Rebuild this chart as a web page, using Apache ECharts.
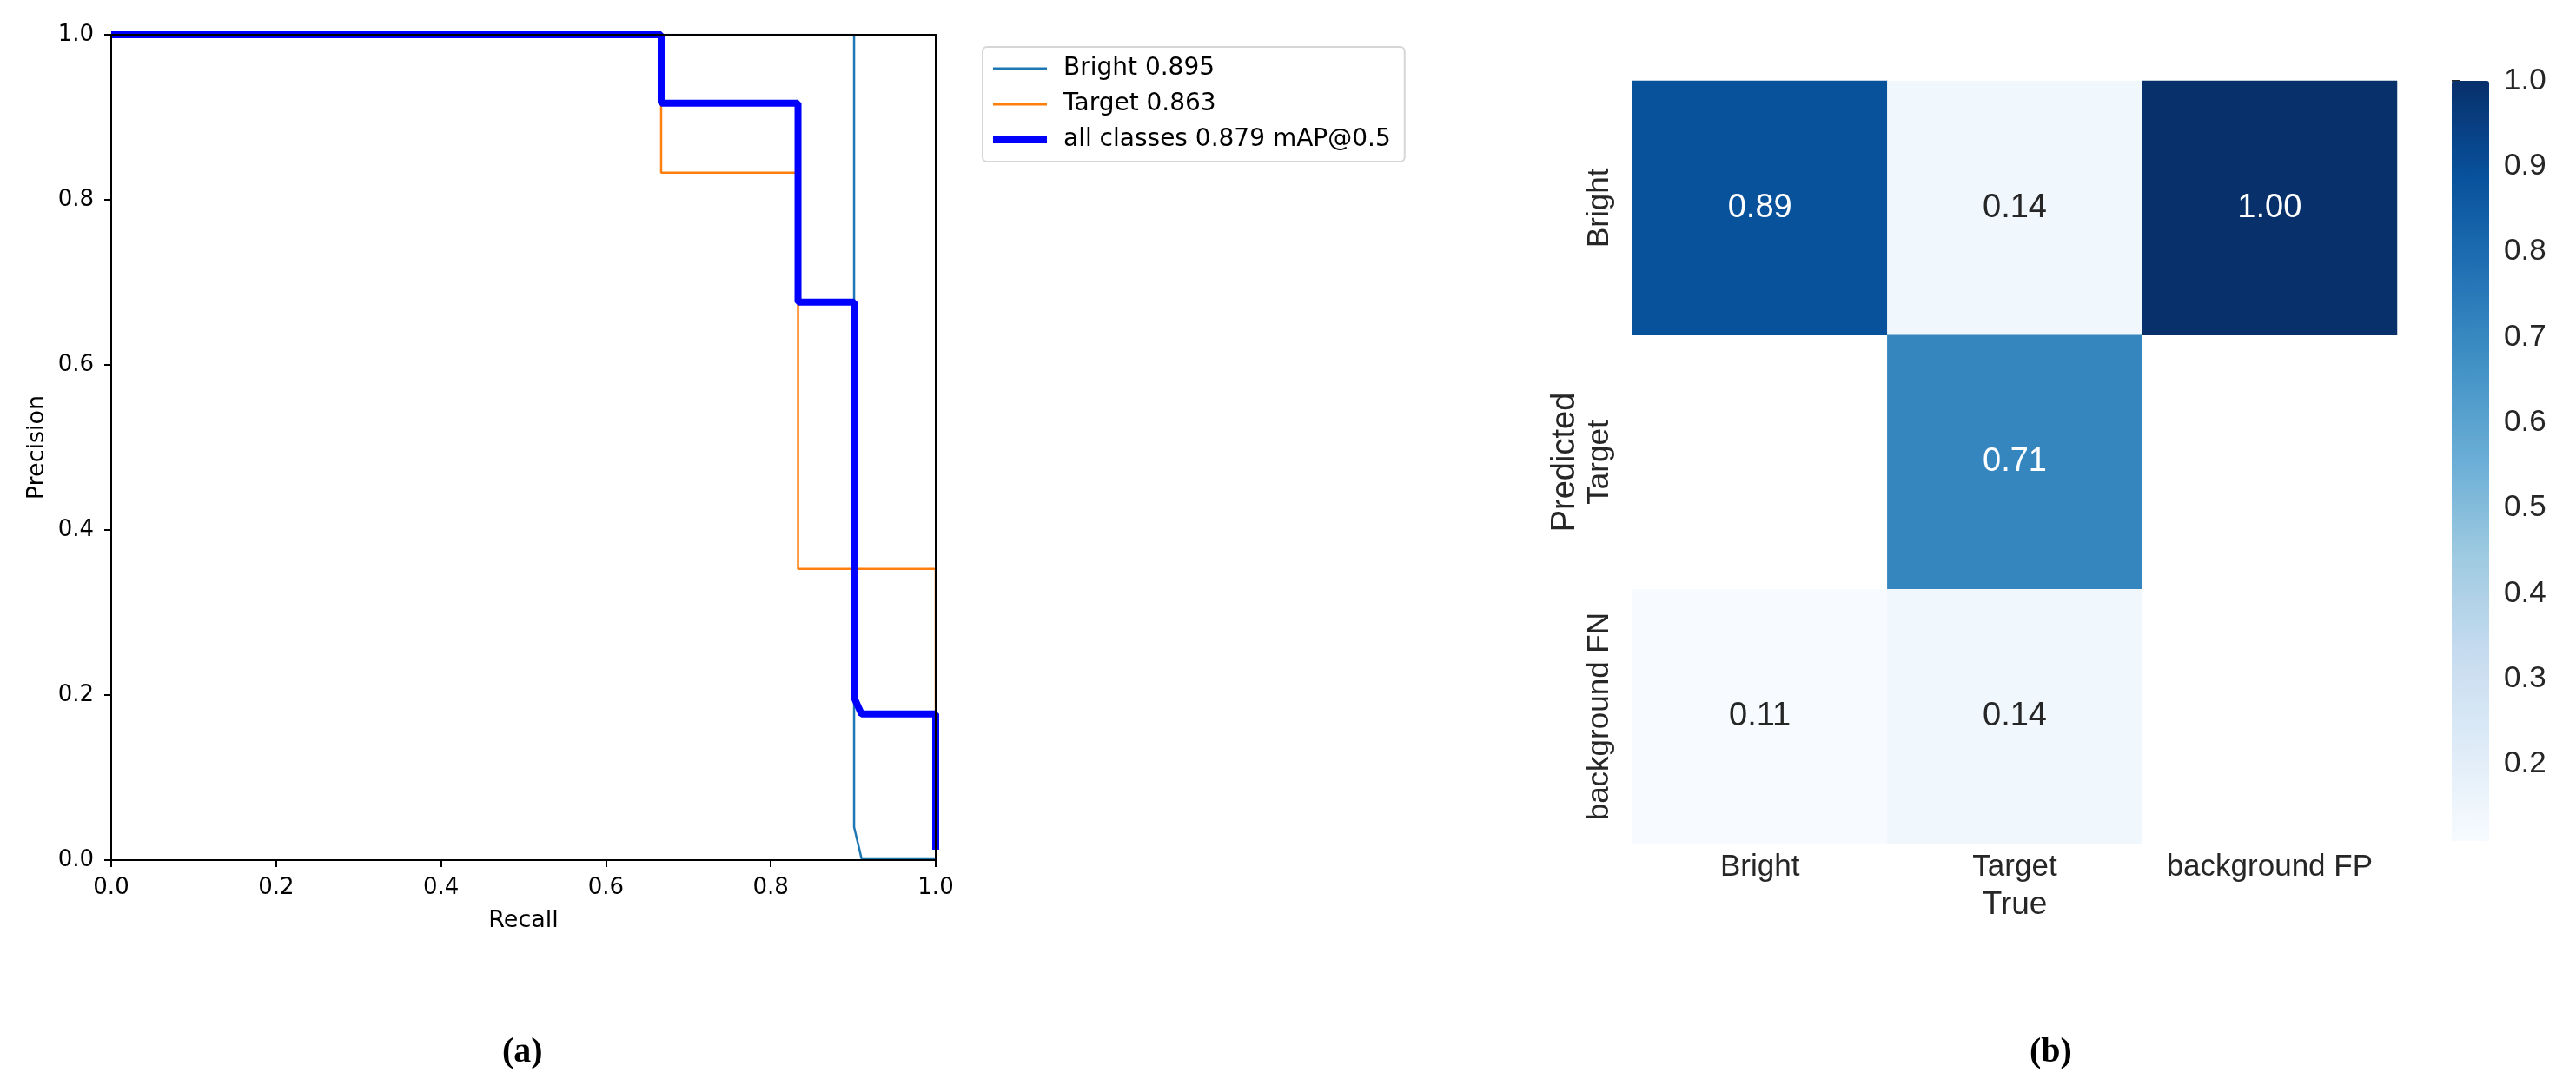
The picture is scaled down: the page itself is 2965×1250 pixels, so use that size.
<!DOCTYPE html>
<html><head><meta charset="utf-8">
<script src="https://cdn.jsdelivr.net/npm/echarts@6/dist/echarts.min.js"></script>
<style>html,body{margin:0;padding:0;background:#fff}#c{width:2965px;height:1250px}</style>
</head><body><div id="c"></div>
<script>
// ---- PR curve data (recall, precision) ----
const prTicks = [0, 0.2, 0.4, 0.6, 0.8, 1.0];
const brightName = 'Bright 0.895';
const targetName = 'Target 0.863';
const allName = 'all classes 0.879 mAP@0.5';
const brightPR = [[0, 1], [0.901, 1], [0.901, 0.04], [0.910, 0.002], [1.0, 0.002]];
const targetPR = [[0, 1], [0.667, 1], [0.667, 0.833], [0.833, 0.833], [0.833, 0.353], [1.0, 0.353], [1.0, 0.025]];
const allPR = [[0, 1], [0.667, 1], [0.667, 0.917], [0.833, 0.917], [0.833, 0.676], [0.901, 0.676], [0.901, 0.197], [0.910, 0.177], [1.0, 0.177], [1.0, 0.0126]];

// ---- Confusion matrix data ----
const trueLabels = ['Bright', 'Target', 'background FP'];
const predLabels = ['Bright', 'Target', 'background FN'];
const cmRowBright = [0.89, 0.14, 1.00];
const cmRowTarget = [null, 0.71, null];
const cmRowBgFN = [0.11, 0.14, null];
const cbTicks = [0.2, 0.3, 0.4, 0.5, 0.6, 0.7, 0.8, 0.9, 1.0];
const cbMin = 0.11, cbMax = 1.0;
const blues = ['#f7fbff', '#deebf7', '#c6dbef', '#9ecae1', '#6baed6', '#4292c6', '#2171b5', '#08519c', '#08306b'];

const cmRows = [cmRowBright, cmRowTarget, cmRowBgFN];
const cmData = [];
cmRows.forEach((row, r) => row.forEach((v, c) => {
  if (v !== null) cmData.push({ value: [c, r, v], label: { color: v > 0.5 ? '#ffffff' : '#262626' } });
}));

const PRF = 'DejaVu Sans';
const HMF = 'Liberation Sans';

const chart = echarts.init(document.getElementById('c'), null, { renderer: 'canvas' });
const spine = { show: true, onZero: false, lineStyle: { color: '#000', width: 2 } };
const prAxisCommon = {
  type: 'value', min: 0, max: 1, interval: 0.2, z: 10,
  axisLine: spine,
  axisTick: { show: true, length: 8, lineStyle: { color: '#000', width: 2 } },
  splitLine: { show: false },
  nameTextStyle: { fontFamily: PRF, fontSize: 27, color: '#000' },
  nameLocation: 'middle'
};
const spineOnly = {
  type: 'value', min: 0, max: 1, gridIndex: 0, z: 10,
  axisLine: spine, axisTick: { show: false }, axisLabel: { show: false }, splitLine: { show: false }
};
chart.setOption({
  backgroundColor: '#ffffff',
  animation: false,
  grid: [
    { left: 128, top: 40, width: 949, height: 950, show: false, outerBoundsMode: 'none' },
    { left: 1879, top: 93, width: 880, height: 878, show: false, outerBoundsMode: 'none' },
    { left: 2822, top: 93, width: 43, height: 875, show: false, outerBoundsMode: 'none' }
  ],
  xAxis: [
    Object.assign({}, prAxisCommon, {
      gridIndex: 0, name: 'Recall', nameGap: 56, position: 'bottom',
      axisLabel: { margin: 19, fontFamily: PRF, fontSize: 26, color: '#000', formatter: v => v.toFixed(1) }
    }),
    {
      type: 'category', gridIndex: 1, data: trueLabels, position: 'bottom',
      axisLine: { show: false }, axisTick: { show: false }, splitLine: { show: false },
      axisLabel: { interval: 0, margin: 10, fontFamily: HMF, fontSize: 35, color: '#262626' },
      name: 'True', nameLocation: 'middle', nameGap: 52,
      nameTextStyle: { fontFamily: HMF, fontSize: 37, color: '#262626' }
    },
    { type: 'value', gridIndex: 2, show: false, min: 0, max: 1 },
    Object.assign({}, spineOnly, { position: 'top' })
  ],
  yAxis: [
    Object.assign({}, prAxisCommon, {
      gridIndex: 0, name: 'Precision', nameGap: 72, nameRotate: 90, position: 'left',
      axisLabel: { margin: 20, fontFamily: PRF, fontSize: 26, color: '#000', formatter: v => v.toFixed(1) }
    }),
    {
      type: 'category', gridIndex: 1, data: predLabels, inverse: true,
      axisLine: { show: false }, axisTick: { show: false }, splitLine: { show: false },
      axisLabel: { interval: 0, margin: 20, rotate: 90, fontFamily: HMF, fontSize: 35, color: '#262626' },
      name: 'Predicted', nameLocation: 'middle', nameGap: 58, nameRotate: 90,
      nameTextStyle: { fontFamily: HMF, fontSize: 38, color: '#262626' }
    },
    {
      type: 'value', gridIndex: 2, position: 'right', min: cbMin, max: cbMax,
      axisLine: { show: false }, splitLine: { show: false },
      axisTick: { show: true, length: 10, customValues: cbTicks, lineStyle: { color: '#262626', width: 2 } },
      axisLabel: { margin: 17, customValues: cbTicks, fontFamily: HMF, fontSize: 35, color: '#262626', formatter: v => v.toFixed(1) }
    },
    Object.assign({}, spineOnly, { position: 'right' })
  ],
  legend: {
    left: 1131, top: 54, orient: 'vertical', selectedMode: false,
    padding: [11, 16, 11, 8], itemGap: 13, itemWidth: 62, itemHeight: 16,
    borderColor: '#d6d6d6', borderWidth: 2, borderRadius: 5,
    textStyle: { fontFamily: PRF, fontSize: 28, color: '#000', padding: [0, 0, 0, 14] },
    data: [
      { name: brightName, lineStyle: { width: 3, color: '#1f77b4' }, itemStyle: { opacity: 0 } },
      { name: targetName, lineStyle: { width: 3, color: '#ff7f0e' }, itemStyle: { opacity: 0 } },
      { name: allName, lineStyle: { width: 8, color: '#0000ff' }, itemStyle: { opacity: 0 } }
    ]
  },
  visualMap: {
    type: 'continuous', min: cbMin, max: cbMax, seriesIndex: 3, calculable: false,
    inRange: { color: blues }, left: 2822, top: 93, itemWidth: 43, itemHeight: 875,
    padding: 0, orient: 'vertical', text: null, showLabel: false, hoverLink: false
  },
  series: [
    { type: 'line', name: brightName, xAxisIndex: 0, yAxisIndex: 0, data: brightPR, symbol: 'none', color: '#1f77b4', lineStyle: { width: 2.5, color: '#1f77b4' }, z: 3 },
    { type: 'line', name: targetName, xAxisIndex: 0, yAxisIndex: 0, data: targetPR, symbol: 'none', color: '#ff7f0e', lineStyle: { width: 2.5, color: '#ff7f0e' }, z: 3 },
    { type: 'line', name: allName, xAxisIndex: 0, yAxisIndex: 0, data: allPR, symbol: 'none', color: '#0000ff', lineStyle: { width: 8, color: '#0000ff' }, z: 4 },
    {
      type: 'heatmap', xAxisIndex: 1, yAxisIndex: 1, data: cmData,
      label: { show: true, fontFamily: HMF, fontSize: 38, formatter: p => p.value[2].toFixed(2) },
      itemStyle: { borderWidth: 0 }, emphasis: { disabled: true }
    }
  ],
  graphic: [
    { type: 'text', left: 578, top: 1192, style: { text: '(a)', font: 'bold 40px "Liberation Serif"', fill: '#000' } },
    { type: 'text', left: 2336, top: 1192, style: { text: '(b)', font: 'bold 40px "Liberation Serif"', fill: '#000' } }
  ]
});
</script></body></html>
